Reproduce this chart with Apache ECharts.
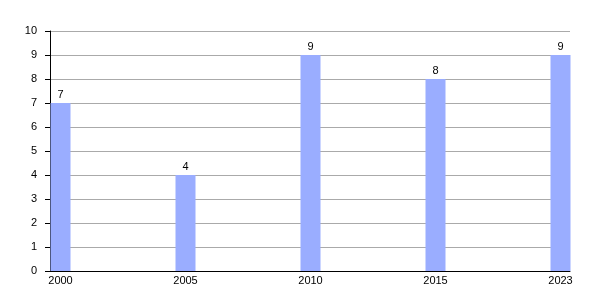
<!DOCTYPE html>
<html><head><meta charset="utf-8">
<script src="https://cdn.jsdelivr.net/npm/echarts@6/dist/echarts.min.js"></script>
<style>html,body{margin:0;padding:0;background:#fff}#c{width:600px;height:300px}</style>
</head><body><div id="c"></div>
<script>
const categories = ['2000', '2005', '2010', '2015', '2023'];
const values = [7, 4, 9, 8, 9];
const yMin = 0, yMax = 10, yStep = 1;

const chart = echarts.init(document.getElementById('c'), null, {renderer: 'canvas'});
const font = 'Liberation Sans, Arial, sans-serif';
chart.setOption({
  animation: false,
  grid: [
    {left: 60.5, right: 39.5, top: 31, bottom: 29},
    {left: 50, right: 30, top: 31, bottom: 29}
  ],
  xAxis: [
    {gridIndex: 0, type: 'category', data: categories, boundaryGap: false,
     axisLine: {show: false}, axisTick: {show: false}, splitLine: {show: false},
     axisLabel: {color: '#000', fontSize: 11, fontFamily: font, margin: 4}},
    {gridIndex: 1, type: 'value', min: 0, max: 1,
     axisLine: {show: true, lineStyle: {color: '#000', width: 1}}, axisTick: {show: false},
     axisLabel: {show: false}, splitLine: {show: false}}
  ],
  yAxis: [
    {gridIndex: 0, type: 'value', min: yMin, max: yMax, interval: yStep, show: false},
    {gridIndex: 1, type: 'value', min: yMin, max: yMax, interval: yStep,
     axisLine: {show: true, lineStyle: {color: '#000', width: 1}},
     axisTick: {show: true, length: 5, lineStyle: {color: '#000', width: 1}},
     axisLabel: {color: '#000', fontSize: 11, fontFamily: font, margin: 13},
     splitLine: {show: true, lineStyle: {color: '#aaaaaa', width: 1}}}
  ],
  series: [{
    type: 'bar', xAxisIndex: 0, yAxisIndex: 0, data: values, barWidth: 20,
    itemStyle: {color: '#9aadff'},
    label: {show: true, position: 'top', color: '#000', fontSize: 11, fontFamily: font, distance: 3}
  }]
});
</script></body></html>
